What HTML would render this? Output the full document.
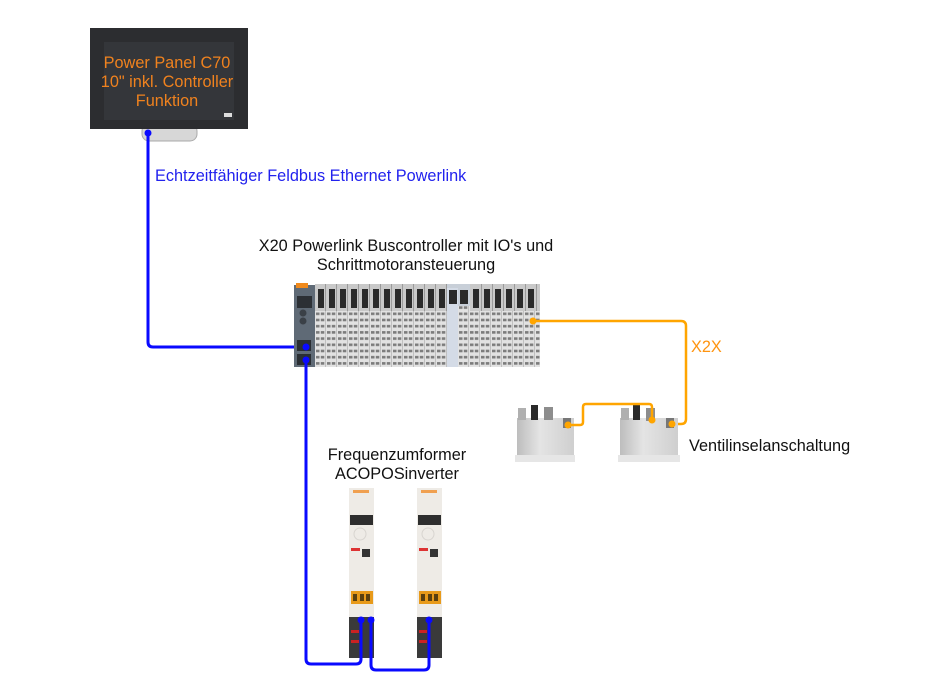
<!DOCTYPE html>
<html><head><meta charset="utf-8">
<style>
html,body{margin:0;padding:0;background:#fff;}
svg{display:block;}
text{font-family:"Liberation Sans",Arial,sans-serif;}
</style></head>
<body>
<svg width="951" height="697" viewBox="0 0 951 697" xmlns="http://www.w3.org/2000/svg">
<defs>
  <pattern id="term" x="315" y="311" width="11" height="6.2" patternUnits="userSpaceOnUse">
    <rect width="11" height="6.2" fill="#e2e2e2"/>
    <rect x="1" y="1.5" width="3.5" height="2.6" fill="#7c7c7c"/>
    <rect x="5.8" y="1.5" width="3.5" height="2.6" fill="#7c7c7c"/>
    <rect x="10.2" y="0" width="0.8" height="6.2" fill="#b8b8b8"/>
  </pattern>
  <linearGradient id="metal" x1="0" y1="0" x2="1" y2="0">
    <stop offset="0" stop-color="#bdbdbd"/>
    <stop offset="0.4" stop-color="#e4e4e4"/>
    <stop offset="1" stop-color="#cfcfcf"/>
  </linearGradient>
</defs>

<!-- Power Panel -->
<rect x="142" y="124" width="55" height="17" rx="7" fill="#d7d7d7" stroke="#aaa" stroke-width="1"/>
<rect x="90" y="28" width="158" height="101" fill="#2c2d30"/>
<rect x="104" y="42" width="130" height="78" fill="#34363a"/>
<rect x="224" y="113" width="8" height="4" fill="#ddd"/>
<text x="167" y="68" font-size="16.3" fill="#f0821e" text-anchor="middle">Power Panel C70</text>
<text x="167" y="87" font-size="16.3" fill="#f0821e" text-anchor="middle">10" inkl. Controller</text>
<text x="167" y="106" font-size="16.3" fill="#f0821e" text-anchor="middle">Funktion</text>

<!-- blue bus line 1 -->
<path d="M148,133 L148,342 Q148,347 153,347 L306,347" fill="none" stroke="#0a0aff" stroke-width="3"/>
<circle cx="148" cy="133" r="3.5" fill="#0a0aff"/>
<text x="155" y="181" font-size="16.3" fill="#2222ee">Echtzeitfähiger Feldbus Ethernet Powerlink</text>

<!-- X20 label -->
<text x="406" y="251" font-size="16.3" fill="#111" text-anchor="middle">X20 Powerlink Buscontroller mit IO's und</text>
<text x="406" y="270" font-size="16.3" fill="#111" text-anchor="middle">Schrittmotoransteuerung</text>

<!-- X20 modules -->
<rect x="315" y="311" width="225" height="56" fill="url(#term)"/>
<g fill="#c9c9c9">
  <rect x="315" y="284" width="132" height="27"/>
  <rect x="470" y="284" width="70" height="27"/>
</g>
<g fill="#2a2a2a">
  <rect x="318" y="289" width="6" height="19"/><rect x="329" y="289" width="6" height="19"/><rect x="340" y="289" width="6" height="19"/>
  <rect x="351" y="289" width="6" height="19"/><rect x="362" y="289" width="6" height="19"/><rect x="373" y="289" width="6" height="19"/>
  <rect x="384" y="289" width="6" height="19"/><rect x="395" y="289" width="6" height="19"/><rect x="406" y="289" width="6" height="19"/>
  <rect x="417" y="289" width="6" height="19"/><rect x="428" y="289" width="6" height="19"/><rect x="439" y="289" width="6" height="19"/>
  <rect x="473" y="289" width="6" height="19"/><rect x="484" y="289" width="6" height="19"/><rect x="495" y="289" width="6" height="19"/>
  <rect x="506" y="289" width="6" height="19"/><rect x="517" y="289" width="6" height="19"/><rect x="528" y="289" width="6" height="19"/>
</g>
<g fill="#9a9a9a">
  <rect x="325" y="284" width="1" height="27"/><rect x="336" y="284" width="1" height="27"/><rect x="347" y="284" width="1" height="27"/>
  <rect x="358" y="284" width="1" height="27"/><rect x="369" y="284" width="1" height="27"/><rect x="380" y="284" width="1" height="27"/>
  <rect x="391" y="284" width="1" height="27"/><rect x="402" y="284" width="1" height="27"/><rect x="413" y="284" width="1" height="27"/>
  <rect x="424" y="284" width="1" height="27"/><rect x="435" y="284" width="1" height="27"/><rect x="446" y="284" width="1" height="27"/>
  <rect x="481" y="284" width="1" height="27"/><rect x="492" y="284" width="1" height="27"/><rect x="503" y="284" width="1" height="27"/>
  <rect x="514" y="284" width="1" height="27"/><rect x="525" y="284" width="1" height="27"/><rect x="536" y="284" width="1" height="27"/>
</g>
<!-- special module -->
<rect x="447" y="284" width="23" height="83" fill="#c8cfd8"/>
<rect x="447" y="288" width="11" height="79" fill="#d4dbe6"/>
<rect x="449" y="290" width="8" height="14" fill="#2a2a2a"/>
<rect x="460" y="290" width="8" height="14" fill="#2a2a2a"/>
<rect x="458" y="306" width="12" height="61" fill="url(#term)"/>
<!-- bus controller -->
<rect x="294" y="285" width="21" height="82" fill="#5f6a76"/>
<rect x="296" y="283" width="12" height="5" fill="#f08a1c"/>
<rect x="297" y="296" width="15" height="12" fill="#2c3035"/>
<circle cx="303" cy="313" r="3.5" fill="#3a4047"/>
<circle cx="303" cy="321" r="3.5" fill="#3a4047"/>
<rect x="297" y="340" width="14" height="11" fill="#2a2e33"/>
<rect x="297" y="354" width="14" height="11" fill="#2a2e33"/>

<!-- orange X2X line -->
<path d="M533,321 L681,321 Q686,321 686,326 L686,419 Q686,424 681,424 L672,424" fill="none" stroke="#ffa500" stroke-width="2.5"/>
<circle cx="533" cy="321" r="3.5" fill="#ffa500"/>
<text x="691" y="352" font-size="16.3" fill="#ff9410">X2X</text>

<!-- Valve terminals -->
<g>
  <rect x="517" y="418" width="57" height="38" fill="url(#metal)"/>
  <rect x="515" y="455" width="60" height="7" fill="#e6e6e6"/>
  <rect x="518" y="408" width="8" height="12" fill="#b0b0b0"/>
  <rect x="531" y="405" width="7" height="15" fill="#2b2b2b"/>
  <rect x="544" y="407" width="9" height="13" fill="#8d8d8d"/>
  <rect x="563" y="418" width="8" height="10" fill="#777"/>
</g>
<g>
  <rect x="620" y="418" width="58" height="38" fill="url(#metal)"/>
  <rect x="618" y="455" width="62" height="7" fill="#e6e6e6"/>
  <rect x="621" y="408" width="8" height="12" fill="#b0b0b0"/>
  <rect x="633" y="405" width="7" height="15" fill="#2b2b2b"/>
  <rect x="646" y="408" width="9" height="13" fill="#8d8d8d"/>
  <rect x="666" y="418" width="8" height="10" fill="#777"/>
</g>
<path d="M568,425 L580,425 Q583,425 583,422 L583,407 Q583,404 586,404 L649,404 Q652,404 652,407 L652,420" fill="none" stroke="#ffa500" stroke-width="2.5"/>
<circle cx="568" cy="425" r="3.5" fill="#ffa500"/>
<circle cx="652" cy="420" r="3.5" fill="#ffa500"/>
<circle cx="672" cy="424" r="3.5" fill="#ffa500"/>
<text x="689" y="451" font-size="16.3" fill="#111">Ventilinselanschaltung</text>

<!-- Inverter label -->
<text x="397" y="460" font-size="16.3" fill="#111" text-anchor="middle">Frequenzumformer</text>
<text x="397" y="479" font-size="16.3" fill="#111" text-anchor="middle">ACOPOSinverter</text>

<!-- Inverters -->
<g>
  <rect x="349" y="488" width="25" height="170" fill="#eeebe6"/>
  <rect x="353" y="490" width="16" height="3" fill="#f0a050"/>
  <rect x="350" y="515" width="23" height="10" fill="#2e2e2e"/>
  <circle cx="360" cy="534" r="6" fill="none" stroke="#d8d5d0" stroke-width="1"/>
  <rect x="351" y="548" width="9" height="3" fill="#d33"/>
  <rect x="362" y="549" width="8" height="8" fill="#333"/>
  <rect x="351" y="591" width="22" height="13" fill="#e89a1a"/>
  <rect x="353" y="594" width="4" height="7" fill="#5a4010"/>
  <rect x="360" y="594" width="4" height="7" fill="#5a4010"/>
  <rect x="366" y="594" width="4" height="7" fill="#5a4010"/>
  <rect x="349" y="617" width="25" height="41" fill="#3a3a3a"/>
  <rect x="351" y="630" width="8" height="3" fill="#c22"/>
  <rect x="351" y="640" width="8" height="3" fill="#c22"/>
</g>
<g>
  <rect x="417" y="488" width="25" height="170" fill="#eeebe6"/>
  <rect x="421" y="490" width="16" height="3" fill="#f0a050"/>
  <rect x="418" y="515" width="23" height="10" fill="#2e2e2e"/>
  <circle cx="428" cy="534" r="6" fill="none" stroke="#d8d5d0" stroke-width="1"/>
  <rect x="419" y="548" width="9" height="3" fill="#d33"/>
  <rect x="430" y="549" width="8" height="8" fill="#333"/>
  <rect x="419" y="591" width="22" height="13" fill="#e89a1a"/>
  <rect x="421" y="594" width="4" height="7" fill="#5a4010"/>
  <rect x="428" y="594" width="4" height="7" fill="#5a4010"/>
  <rect x="434" y="594" width="4" height="7" fill="#5a4010"/>
  <rect x="417" y="617" width="25" height="41" fill="#3a3a3a"/>
  <rect x="419" y="630" width="8" height="3" fill="#c22"/>
  <rect x="419" y="640" width="8" height="3" fill="#c22"/>
</g>

<!-- blue bus line 2 -->
<path d="M306,360 L306,659 Q306,664 311,664 L356,664 Q361,664 361,659 L361,620" fill="none" stroke="#0a0aff" stroke-width="3"/>
<path d="M371,620 L371,665 Q371,670 376,670 L424,670 Q429,670 429,665 L429,620" fill="none" stroke="#0a0aff" stroke-width="3"/>
<circle cx="306" cy="347" r="3.5" fill="#0a0aff"/>
<circle cx="306" cy="360" r="3.5" fill="#0a0aff"/>
<circle cx="361" cy="620" r="3.5" fill="#0a0aff"/>
<circle cx="371" cy="620" r="3.5" fill="#0a0aff"/>
<circle cx="429" cy="620" r="3.5" fill="#0a0aff"/>
</svg>
</body></html>
